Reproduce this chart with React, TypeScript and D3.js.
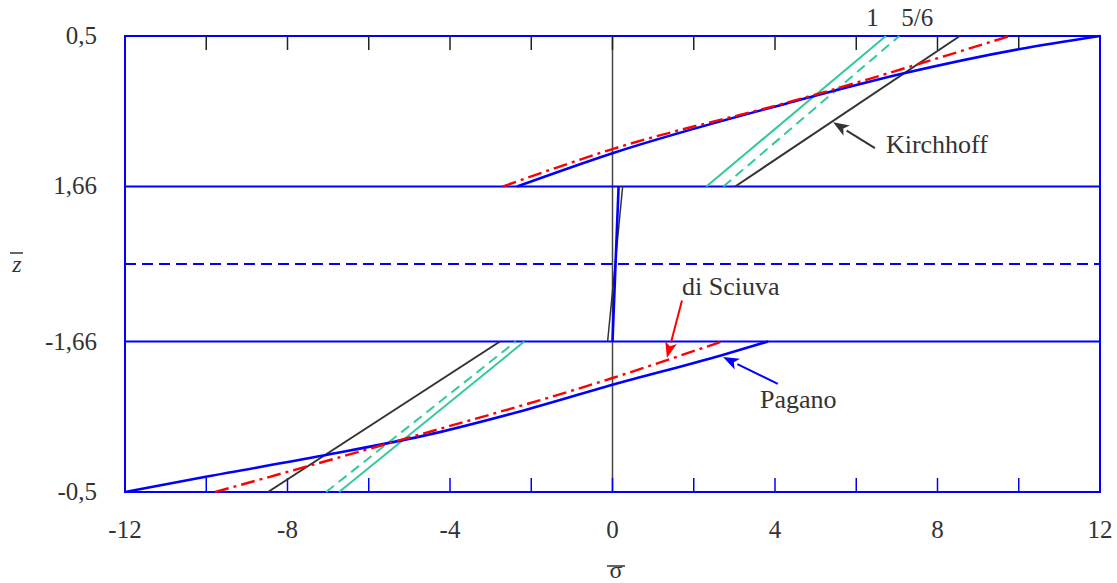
import * as d3 from "d3";
import { useEffect, useRef } from "react";

// размеры и шкалы
const W = 1117;
const H = 583;
const margin = { top: 36, right: 17, bottom: 91, left: 125 };

// подписи осей
const xTickValues = [-12, -8, -4, 0, 4, 8, 12];
const xTickLabels = ["-12", "-8", "-4", "0", "4", "8", "12"];
const xMinorTicks = [-10, -8, -6, -4, -2, 0, 2, 4, 6, 8, 10];
const yTickValues = [0.5, 0.17, -0.17, -0.5];
const yTickLabels = ["0,5", "1,66", "-1,66", "-0,5"];
const coreBounds = [0.17, -0.17];

// Pagano (точное решение)
const paganoTopS = [-2.35, 0, 4.62, 7.12, 10.0, 12];
const paganoTopZ = [0.17, 0.243, 0.36, 0.417, 0.471, 0.5];
const paganoCoreS = [0.15, 0];
const paganoCoreZ = [0.17, -0.17];
const paganoBotS = [-12, -9.98, -7.12, -4.42, -2.35, 0, 2.69, 3.83];
const paganoBotZ = [-0.5, -0.466, -0.42, -0.372, -0.325, -0.265, -0.2, -0.17];

// di Sciuva
const sciuvaTopS = [-2.7, 0, 4.62, 9.78];
const sciuvaTopZ = [0.17, 0.252, 0.362, 0.5];
const sciuvaBotS = [-9.78, -5.3, 0, 2.69];
const sciuvaBotZ = [-0.5, -0.388, -0.25, -0.17];

// Kirchhoff
const kirchTopS = [3.02, 8.55];
const kirchTopZ = [0.17, 0.5];
const kirchCoreS = [0.25, -0.12];
const kirchCoreZ = [0.17, -0.17];
const kirchBotS = [-8.48, -2.77];
const kirchBotZ = [-0.5, -0.17];

// сдвиговый коэффициент 1
const k1TopS = [2.31, 6.73];
const k1TopZ = [0.17, 0.5];
const k1BotS = [-6.73, -2.17];
const k1BotZ = [-0.5, -0.17];

// сдвиговый коэффициент 5/6
const k56TopS = [2.73, 7.06];
const k56TopZ = [0.17, 0.5];
const k56BotS = [-7.05, -2.38];
const k56BotZ = [-0.5, -0.17];

const zip = (s: number[], z: number[]) => s.map((v, i) => [v, z[i]] as [number, number]);

const App = () => {
    const chartRef = useRef<SVGSVGElement>(null);

    useEffect(() => {
        const svg = d3.select(chartRef.current);
        svg.selectAll("*").remove();

        const x = d3.scaleLinear().domain([-12, 12]).range([margin.left, W - margin.right]);
        const y = d3.scaleLinear().domain([-0.5, 0.5]).range([H - margin.bottom, margin.top]);
        const font = "'Liberation Serif', serif";
        const textColor = "#333";

        const line = d3.line<[number, number]>().x(d => x(d[0])).y(d => y(d[1]));
        const smooth = d3.line<[number, number]>().x(d => x(d[0])).y(d => y(d[1]))
            .curve(d3.curveMonotoneX);

        // вертикальная линия в нуле
        svg.append("line")
            .attr("x1", x(0)).attr("x2", x(0))
            .attr("y1", y(0.5)).attr("y2", y(-0.5))
            .attr("stroke", "#444").attr("stroke-width", 1.5);

        // границы слоев
        coreBounds.forEach(z => {
            svg.append("line")
                .attr("x1", x(-12)).attr("x2", x(12))
                .attr("y1", y(z)).attr("y2", y(z))
                .attr("stroke", "#0000ff").attr("stroke-width", 2);
        });
        svg.append("line")
            .attr("x1", x(-12)).attr("x2", x(12))
            .attr("y1", y(0)).attr("y2", y(0))
            .attr("stroke", "#0000ff").attr("stroke-width", 2)
            .attr("stroke-dasharray", "11,6");

        // рамка
        svg.append("rect")
            .attr("x", x(-12)).attr("y", y(0.5))
            .attr("width", x(12) - x(-12)).attr("height", y(-0.5) - y(0.5))
            .attr("fill", "none").attr("stroke", "#0000ff").attr("stroke-width", 2);

        // засечки сверху (черные) и снизу (синие)
        svg.selectAll(".tick-top").data(xMinorTicks).enter().append("line")
            .attr("x1", d => x(d)).attr("x2", d => x(d))
            .attr("y1", y(0.5)).attr("y2", y(0.5) + 14)
            .attr("stroke", "#222").attr("stroke-width", 1.5);
        svg.selectAll(".tick-bot").data(xMinorTicks).enter().append("line")
            .attr("x1", d => x(d)).attr("x2", d => x(d))
            .attr("y1", y(-0.5)).attr("y2", y(-0.5) - 14)
            .attr("stroke", "#0000ff").attr("stroke-width", 1.5);

        // графики
        const draw = (s: number[], z: number[], color: string, width: number, dash?: string, curved = false) => {
            const gen = curved ? smooth : line;
            const p = svg.append("path")
                .attr("d", gen(zip(s, z)))
                .attr("fill", "none")
                .attr("stroke", color)
                .attr("stroke-width", width);
            if (dash) p.attr("stroke-dasharray", dash);
        };

        const green = "#33c99c";
        draw(k56TopS, k56TopZ, green, 2, "10,6");
        draw(k56BotS, k56BotZ, green, 2, "10,6");
        draw(k1TopS, k1TopZ, green, 2);
        draw(k1BotS, k1BotZ, green, 2);
        draw(kirchTopS, kirchTopZ, "#333", 2);
        draw(kirchCoreS, kirchCoreZ, "#333", 1.5);
        draw(kirchBotS, kirchBotZ, "#333", 2);
        draw(paganoTopS, paganoTopZ, "#0000ff", 2.6, undefined, true);
        draw(paganoCoreS, paganoCoreZ, "#0000ff", 2.6);
        draw(paganoBotS, paganoBotZ, "#0000ff", 2.6, undefined, true);
        draw(sciuvaTopS, sciuvaTopZ, "#ff0000", 2.4, "14,5,3,5", true);
        draw(sciuvaBotS, sciuvaBotZ, "#ff0000", 2.4, "14,5,3,5", true);

        // подписи оси X
        svg.selectAll(".xlabel").data(xTickValues).enter().append("text")
            .attr("x", d => x(d))
            .attr("y", 538)
            .attr("text-anchor", "middle")
            .attr("font-family", font).attr("font-size", 25)
            .attr("fill", textColor)
            .text((d, i) => xTickLabels[i]);

        // подписи оси Y
        svg.selectAll(".ylabel").data(yTickValues).enter().append("text")
            .attr("x", 97)
            .attr("y", d => y(d) + 8)
            .attr("text-anchor", "end")
            .attr("font-family", font).attr("font-size", 25)
            .attr("fill", textColor)
            .text((d, i) => yTickLabels[i]);

        // названия осей
        svg.append("text")
            .attr("x", 616).attr("y", 578)
            .attr("text-anchor", "middle")
            .attr("font-family", font).attr("font-size", 24)
            .attr("fill", textColor)
            .text("σ");
        svg.append("line")
            .attr("x1", 607).attr("x2", 625).attr("y1", 566).attr("y2", 566)
            .attr("stroke", textColor).attr("stroke-width", 1.5);
        svg.append("text")
            .attr("x", 17).attr("y", 272)
            .attr("text-anchor", "middle")
            .attr("font-family", font).attr("font-size", 24)
            .attr("font-style", "italic")
            .attr("fill", textColor)
            .text("z");
        svg.append("line")
            .attr("x1", 10).attr("x2", 23).attr("y1", 253).attr("y2", 253)
            .attr("stroke", textColor).attr("stroke-width", 1.5);

        // подписи коэффициентов
        svg.append("text").attr("x", x(6.4)).attr("y", 26)
            .attr("text-anchor", "middle")
            .attr("font-family", font).attr("font-size", 25).attr("fill", textColor)
            .text("1");
        svg.append("text").attr("x", x(7.5)).attr("y", 26)
            .attr("text-anchor", "middle")
            .attr("font-family", font).attr("font-size", 25).attr("fill", textColor)
            .text("5/6");

        // стрелки с подписями
        const arrow = (from: [number, number], to: [number, number], color: string) => {
            const x1 = x(from[0]), y1 = y(from[1]), x2 = x(to[0]), y2 = y(to[1]);
            const a = Math.atan2(y2 - y1, x2 - x1);
            const len = 16, half = 6;
            const bx = x2 - len * Math.cos(a), by = y2 - len * Math.sin(a);
            svg.append("line")
                .attr("x1", x1).attr("y1", y1).attr("x2", bx).attr("y2", by)
                .attr("stroke", color).attr("stroke-width", 2);
            const pts = [
                [x2, y2],
                [bx + half * Math.sin(a), by - half * Math.cos(a)],
                [bx + 4 * Math.cos(a), by + 4 * Math.sin(a)],
                [bx - half * Math.sin(a), by + half * Math.cos(a)],
            ];
            svg.append("polygon")
                .attr("points", pts.map(p => p.join(",")).join(" "))
                .attr("fill", color);
        };

        arrow([6.46, 0.254], [5.43, 0.311], "#333");
        arrow([1.71, -0.08], [1.34, -0.206], "#ff0000");
        arrow([4.07, -0.263], [2.72, -0.204], "#0000ff");

        const note = (s: number, z: number, label: string) => {
            svg.append("text").attr("x", x(s)).attr("y", y(z))
                .attr("font-family", font).attr("font-size", 26).attr("fill", textColor)
                .text(label);
        };
        note(6.73, 0.243, "Kirchhoff");
        note(1.71, -0.068, "di Sciuva");
        note(3.63, -0.316, "Pagano");
    }, []);

    return (
        <svg ref={chartRef} width={W} height={H}
            style={{ position: "absolute", left: 0, top: 0, background: "#fff" }}></svg>
    );
};

export default App;
